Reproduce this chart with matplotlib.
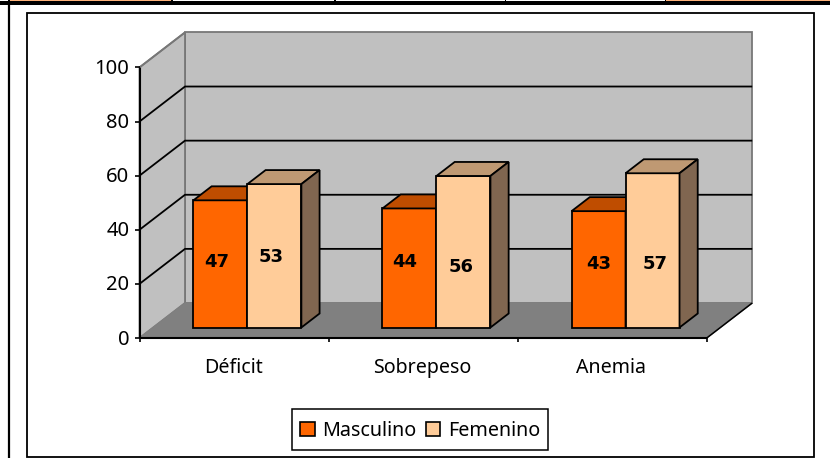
import matplotlib
matplotlib.use("Agg")
import matplotlib.pyplot as plt
from matplotlib.patches import Polygon, Rectangle

categories = ["Déficit", "Sobrepeso", "Anemia"]
masculino = [47, 44, 43]
femenino = [53, 56, 57]
y_ticks = [0, 20, 40, 60, 80, 100]

# hand placed data labels, same as the original chart (x in categories, y in values)
label_x = [0.41, 0.695, 1.404, 1.70, 2.43, 2.726]
label_y = [28.2, 29.8, 28.2, 26.3, 27.2, 27.4]

ORANGE = "#ff6600"
ORANGE_TOP = "#bf4d00"
PEACH = "#ffcc99"
PEACH_TOP = "#bf9973"
PEACH_SIDE = "#806650"
WALL = "#c0c0c0"
FLOOR = "#808080"

W, H = 830, 458
CAT_PX = 189.07   # px per category
VAL_PX = 2.706    # px per value unit
X0_PX, Y0_PX = 139.5, 338.0
DX = 45.5 / CAT_PX   # full depth, in category units
DY = 35.0 / VAL_PX   # full depth, in value units
BAR_W = 0.2855
BAR_START = 0.213

plt.rcParams["font.family"] = ["Noto Sans", "DejaVu Sans"]

fig = plt.figure(figsize=(W / 100, H / 100), dpi=100)
ax = fig.add_axes([0, 0, 1, 1])
ax.set_xlim(-X0_PX / CAT_PX, (W - X0_PX) / CAT_PX)
ax.set_ylim(-(H - Y0_PX) / VAL_PX, Y0_PX / VAL_PX)
ax.axis("off")


def pr(x, v, d=0.0):
    return (x + d * DX, v + d * DY)


def px_x(p):
    return (p - X0_PX) / CAT_PX


def px_y(p):
    return (Y0_PX - p) / VAL_PX


def poly(points, fc, ec="black", lw=1.3, z=2):
    ax.add_patch(Polygon(points, closed=True, fc=fc, ec=ec, lw=lw, zorder=z, joinstyle="miter"))


def line(xs, ys, color="black", lw=1.5, z=3):
    ax.plot(xs, ys, color=color, lw=lw, zorder=z, solid_capstyle="butt")


def bar3d(x, v, front, top, side):
    d0, d1 = 0.3, 0.7
    poly([pr(x, 0, d0), pr(x + BAR_W, 0, d0), pr(x + BAR_W, v, d0), pr(x, v, d0)], front, z=6)
    poly([pr(x, v, d0), pr(x + BAR_W, v, d0), pr(x + BAR_W, v, d1), pr(x, v, d1)], top, z=6)
    poly([pr(x + BAR_W, 0, d0), pr(x + BAR_W, 0, d1), pr(x + BAR_W, v, d1), pr(x + BAR_W, v, d0)], side, z=6)


n = len(categories)

# walls and floor
poly([pr(0, 0, 1), pr(n, 0, 1), pr(n, 100, 1), pr(0, 100, 1)], WALL, ec="#777777", lw=1.3, z=1)
poly([pr(0, 0), pr(0, 100), pr(0, 100, 1), pr(0, 0, 1)], WALL, ec="#777777", lw=1.3, z=1)
poly([pr(0, 0), pr(n, 0), pr(n, 0, 1), pr(0, 0, 1)], FLOOR, ec=FLOOR, lw=1, z=2)

for t in y_ticks[1:-1]:
    a, b, c = pr(0, t), pr(0, t, 1), pr(n, t, 1)
    line([a[0], b[0], c[0]], [a[1], b[1], c[1]], lw=1.3)

# axis lines and ticks
line([0, 0], [0, 100], lw=1.5, z=4)
line([0, n], [0, 0], lw=1.5, z=4)
a, b = pr(n, 0), pr(n, 0, 1)
line([a[0], b[0]], [a[1], b[1]], lw=1.1, z=4)
a, b = pr(0, 100), pr(0, 100, 1)
line([a[0], b[0]], [a[1], b[1]], color="#777777", lw=1.3, z=4)

for t in y_ticks:
    line([px_x(135), 0], [t, t], lw=1.2, z=4)
    ax.text(px_x(129.5), t + 0.35, str(t), ha="right", va="center_baseline", fontsize=14.5, color="black")
for i in range(n + 1):
    line([i, i], [0, px_y(342)], lw=1.2, z=4)

for i, name in enumerate(categories):
    ax.text(i + 0.495, px_y(368), name, ha="center", va="center", fontsize=14.1, color="black")
    x_left = i + BAR_START
    bar3d(x_left, masculino[i], ORANGE, ORANGE_TOP, ORANGE_TOP)
    bar3d(x_left + BAR_W, femenino[i], PEACH, PEACH_TOP, PEACH_SIDE)

values = [v for pair in zip(masculino, femenino) for v in pair]
for x, y, v in zip(label_x, label_y, values):
    ax.text(x, y, str(v), ha="center", va="center", fontsize=13, fontweight="bold",
            family="DejaVu Sans", color="black", zorder=8)

# legend, its box is taller than matplotlib's padding gives so it is drawn apart
handles = [
    Rectangle((0, 0), 1, 1, fc=ORANGE, ec="black", lw=1.2, label="Masculino"),
    Rectangle((0, 0), 1, 1, fc=PEACH, ec="black", lw=1.2, label="Femenino"),
]
leg = ax.legend(handles=handles, ncol=2, loc="center", bbox_to_anchor=(420.3 / W, 1 - 430.8 / H),
                bbox_transform=ax.transAxes, fontsize=14.2, frameon=False,
                handlelength=0.72, handleheight=0.72, handletextpad=0.38, columnspacing=0.5,
                borderpad=0.42, borderaxespad=0)
leg.set_zorder(9)
for txt in leg.get_texts():
    txt.set_color("black")
ax.add_patch(Rectangle((px_x(292), px_y(450.3)), 256.3 / CAT_PX, 41 / VAL_PX,
                       fc="white", ec="black", lw=1.1, zorder=8))

# chart frame and page table around it
ax.add_patch(Rectangle((px_x(26.7), px_y(456.7)), (814 - 26.7) / CAT_PX, (456.7 - 13) / VAL_PX,
                       fc="none", ec="black", lw=1.3, zorder=10))
line([px_x(9), px_x(9)], [px_y(0), px_y(458)], lw=1.6, z=10)
ax.add_patch(Rectangle((px_x(0), px_y(4.8)), W / CAT_PX, 4.8 / VAL_PX, fc="black", ec="none", zorder=10))
for start, end in [(10, 171), (665.7, 830)]:
    ax.add_patch(Rectangle((px_x(start), px_y(1.2)), (end - start) / CAT_PX, 1.2 / VAL_PX, fc="#ffb27a", ec="none", zorder=11))
for start, end in [(0, 8), (172.5, 334), (335.5, 504.5), (506, 665)]:
    ax.add_patch(Rectangle((px_x(start), px_y(1)), (end - start) / CAT_PX, 1 / VAL_PX, fc="white", ec="none", zorder=11))

fig.savefig("out.png", dpi=100)
